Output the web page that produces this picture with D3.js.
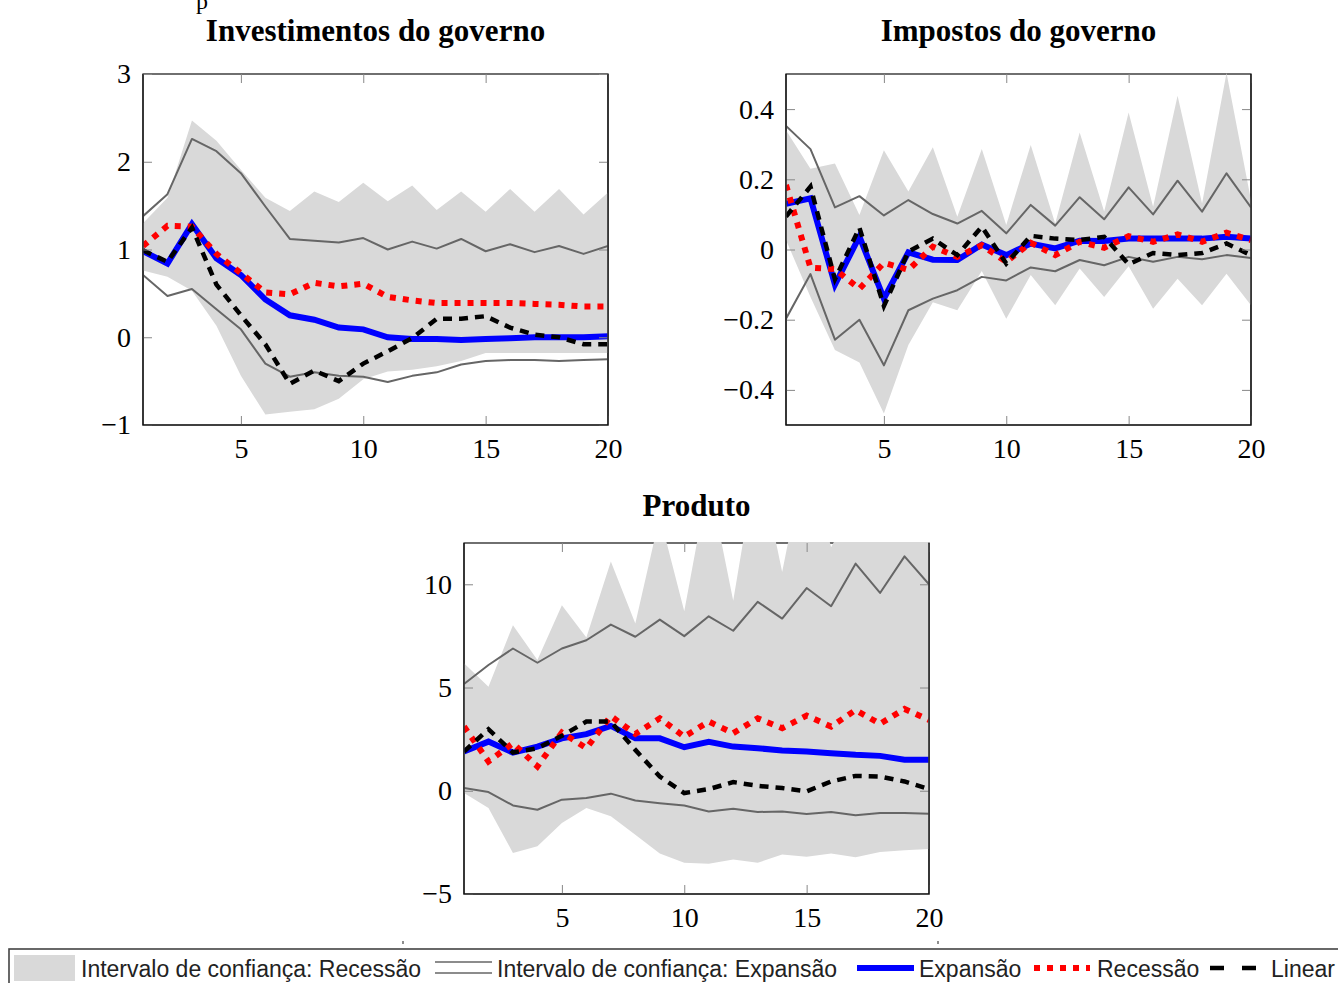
<!DOCTYPE html>
<html>
<head>
<meta charset="utf-8">
<script src="https://cdn.jsdelivr.net/npm/d3@7"></script>
<style>
    body { margin: 0; background: #fff; }
    .axis text { font-family: "Liberation Serif", "Times New Roman", serif; font-size: 28px; fill: #000; }
    .axis line { stroke: #888; stroke-width: 1; }
    .panel-title { font-family: "Liberation Serif", "Times New Roman", serif; font-size: 31px; font-weight: bold; }
    .legend text { font-family: "Liberation Sans", Arial, sans-serif; font-size: 23px; fill: #222; }
</style>
</head>
<body>
<div id="chart"></div>
<script>

// horizons (x axis)
const horizons = [1, 2, 3, 4, 5, 6, 7, 8, 9, 10, 11, 12, 13, 14, 15, 16, 17, 18, 19, 20];
const xTicks = [5, 10, 15, 20];

// Investimentos do governo
const invBandUpper = [1.30, 1.59, 2.47, 2.24, 1.91, 1.59, 1.44, 1.66, 1.54, 1.76, 1.55, 1.73, 1.45, 1.66, 1.43, 1.69, 1.43, 1.69, 1.40, 1.65];
const invBandLower = [0.76, 0.69, 0.53, 0.13, -0.44, -0.88, -0.85, -0.82, -0.70, -0.48, -0.39, -0.37, -0.33, -0.27, -0.18, -0.18, -0.18, -0.18, -0.18, -0.18];
const invExpUpper = [1.38, 1.63, 2.26, 2.12, 1.87, 1.49, 1.12, 1.10, 1.08, 1.13, 1.00, 1.09, 1.01, 1.12, 0.98, 1.06, 0.97, 1.04, 0.95, 1.04];
const invExpLower = [0.71, 0.47, 0.55, 0.32, 0.09, -0.30, -0.45, -0.40, -0.44, -0.45, -0.51, -0.44, -0.40, -0.31, -0.27, -0.26, -0.26, -0.27, -0.26, -0.25];
const invExpansao = [0.98, 0.84, 1.29, 0.90, 0.71, 0.43, 0.25, 0.20, 0.11, 0.09, 0.00, -0.02, -0.02, -0.03, -0.02, -0.01, 0.00, 0.00, 0.00, 0.01];
const invRecessao = [1.04, 1.27, 1.26, 0.95, 0.73, 0.51, 0.49, 0.62, 0.58, 0.61, 0.46, 0.42, 0.39, 0.39, 0.39, 0.39, 0.38, 0.37, 0.35, 0.35];
const invLinear = [0.99, 0.86, 1.25, 0.60, 0.25, -0.08, -0.53, -0.38, -0.50, -0.30, -0.16, -0.01, 0.21, 0.21, 0.24, 0.11, 0.03, 0.00, -0.08, -0.08];
const invYTicks = [-1, 0, 1, 2, 3];

// Impostos do governo
const taxBandUpper = [0.34, 0.23, 0.245, 0.098, 0.283, 0.165, 0.291, 0.093, 0.286, 0.07, 0.298, 0.074, 0.333, 0.108, 0.39, 0.122, 0.438, 0.131, 0.503, 0.14];
const taxBandLower = [0.027, -0.135, -0.286, -0.322, -0.467, -0.272, -0.15, -0.173, -0.061, -0.197, -0.073, -0.159, -0.054, -0.135, -0.048, -0.169, -0.083, -0.159, -0.069, -0.159];
const taxExpUpper = [0.352, 0.286, 0.12, 0.152, 0.097, 0.141, 0.101, 0.074, 0.110, 0.046, 0.127, 0.068, 0.149, 0.086, 0.177, 0.10, 0.196, 0.108, 0.217, 0.12];
const taxExpLower = [-0.197, -0.07, -0.257, -0.20, -0.33, -0.173, -0.14, -0.116, -0.078, -0.088, -0.051, -0.062, -0.030, -0.045, -0.021, -0.035, -0.021, -0.028, -0.016, -0.024];
const taxExpansao = [0.13, 0.146, -0.10, 0.037, -0.14, -0.008, -0.029, -0.03, 0.014, -0.016, 0.017, 0.003, 0.025, 0.024, 0.031, 0.031, 0.031, 0.031, 0.036, 0.031];
const taxRecessao = [0.184, -0.052, -0.056, -0.112, -0.038, -0.058, 0.008, -0.021, 0.012, -0.035, 0.019, -0.016, 0.022, 0.005, 0.038, 0.022, 0.043, 0.022, 0.048, 0.027];
const taxLinear = [0.094, 0.179, -0.085, 0.062, -0.161, -0.006, 0.031, -0.016, 0.065, -0.04, 0.039, 0.031, 0.027, 0.036, -0.042, -0.01, -0.016, -0.01, 0.017, -0.016];
const taxYTicks = [-0.4, -0.2, 0, 0.2, 0.4];

// Produto
const prodBandUpper = [6.17, 5.04, 8.02, 6.33, 8.99, 7.42, 11.1, 8.1, 13.3, 8.7, 15.1, 9.2, 16.3, 10.6, 16.5, 11.8, 14.0, 13.5, 16.0, 14.0];
const prodBandLower = [-0.11, -0.84, -3.01, -2.69, -1.56, -0.84, -1.24, -2.13, -3.04, -3.49, -3.54, -3.33, -3.49, -3.09, -3.2, -3.04, -3.22, -2.96, -2.88, -2.82];
const prodExpUpper = [5.17, 6.09, 6.89, 6.2, 6.89, 7.29, 8.05, 7.46, 8.29, 7.49, 8.45, 7.75, 9.15, 8.34, 9.82, 8.94, 11.0, 9.58, 11.35, 10.0];
const prodExpLower = [0.13, -0.06, -0.71, -0.92, -0.43, -0.35, -0.14, -0.47, -0.6, -0.71, -1.0, -0.87, -1.03, -1.0, -1.13, -1.03, -1.19, -1.08, -1.08, -1.11];
const prodExpansao = [1.9, 2.38, 1.85, 2.14, 2.54, 2.74, 3.14, 2.54, 2.54, 2.11, 2.37, 2.14, 2.06, 1.95, 1.9, 1.82, 1.74, 1.69, 1.5, 1.5];
const prodRecessao = [3.11, 1.42, 2.3, 1.18, 2.82, 2.06, 3.62, 2.75, 3.51, 2.62, 3.35, 2.79, 3.51, 3.03, 3.64, 3.11, 3.91, 3.24, 3.96, 3.43];
const prodLinear = [1.9, 2.98, 1.85, 2.06, 2.66, 3.35, 3.35, 1.98, 0.69, -0.11, 0.08, 0.42, 0.24, 0.13, -0.03, 0.45, 0.72, 0.69, 0.45, 0.08];
const prodYTicks = [-5, 0, 5, 10];

// legend labels
const legendLabels = ["Intervalo de confiança: Recessão", "Intervalo de confiança: Expansão", "Expansão", "Recessão", "Linear"];

const W = 1338, H = 983;

const svg = d3.select("#chart").append("svg")
    .attr("width", W)
    .attr("height", H)
    .style("display", "block");

svg.append("rect").attr("width", W).attr("height", H).attr("fill", "#fff");

// caption letter peeking in at the very top
svg.append("text")
    .attr("x", 196).attr("y", 9)
    .style("font-family", "Liberation Serif, serif")
    .style("font-size", "24px")
    .text("p");

const fmtPlain = d => d3.format("")(d);
const fmtOne = d => d === 0 ? "0" : d3.format(".1f")(d);

/* * * * * * * * * * * * * *
*      class irfPanel      *
* * * * * * * * * * * * * */

class irfPanel {
    constructor(id, box, title, titleY, series, yDomain, yTicks, yFormat) {
        this.id = id;
        this.box = box;
        this.title = title;
        this.titleY = titleY;
        this.series = series;
        this.yDomain = yDomain;
        this.yTicks = yTicks;
        this.yFormat = yFormat;
        this.initVis();
    }

    initVis() {
        let vis = this;
        let b = vis.box;

        vis.g = svg.append("g").attr("class", "panel-" + vis.id);

        vis.x = d3.scaleLinear().domain([1, 20]).range([b.x0, b.x1]);
        vis.y = d3.scaleLinear().domain(vis.yDomain).range([b.y1, b.y0]);

        // title
        vis.g.append("text")
            .attr("class", "panel-title")
            .attr("x", (b.x0 + b.x1) / 2)
            .attr("y", vis.titleY)
            .attr("text-anchor", "middle")
            .text(vis.title);

        // clip
        vis.g.append("clipPath")
            .attr("id", "clip-" + vis.id)
            .append("rect")
            .attr("x", b.x0 + 0.5)
            .attr("y", b.y0 - 1)
            .attr("width", b.x1 - b.x0 - 1)
            .attr("height", b.y1 - b.y0 + 1);

        // frame under the band (top edge gets covered in Produto)
        vis.g.append("rect")
            .attr("x", b.x0).attr("y", b.y0)
            .attr("width", b.x1 - b.x0).attr("height", b.y1 - b.y0)
            .attr("fill", "none")
            .attr("stroke", "#111")
            .attr("stroke-width", 1.2);

        vis.plot = vis.g.append("g").attr("clip-path", `url(#clip-${vis.id})`);

        vis.wrangleData();
    }

    wrangleData() {
        let vis = this;
        let s = vis.series;
        vis.bandData = horizons.map((h, i) => ({h: h, lo: s.bandLower[i], hi: s.bandUpper[i]}));
        vis.lineData = {
            expUpper: horizons.map((h, i) => ({h: h, v: s.expUpper[i]})),
            expLower: horizons.map((h, i) => ({h: h, v: s.expLower[i]})),
            expansao: horizons.map((h, i) => ({h: h, v: s.expansao[i]})),
            recessao: horizons.map((h, i) => ({h: h, v: s.recessao[i]})),
            linear: horizons.map((h, i) => ({h: h, v: s.linear[i]}))
        };
        vis.updateVis();
    }

    updateVis() {
        let vis = this;
        let b = vis.box;

        let area = d3.area()
            .x(d => vis.x(d.h))
            .y0(d => vis.y(d.lo))
            .y1(d => vis.y(d.hi));

        let line = d3.line()
            .x(d => vis.x(d.h))
            .y(d => vis.y(d.v));

        vis.plot.append("path")
            .datum(vis.bandData)
            .attr("d", area)
            .attr("fill", "#d9d9d9");

        // expansion confidence interval
        ["expUpper", "expLower"].forEach(k => {
            vis.plot.append("path")
                .datum(vis.lineData[k])
                .attr("d", line)
                .attr("fill", "none")
                .attr("stroke", "#666")
                .attr("stroke-width", 2)
                .attr("stroke-linejoin", "round");
        });

        vis.plot.append("path")
            .datum(vis.lineData.expansao)
            .attr("d", line)
            .attr("fill", "none")
            .attr("stroke", "#0000ff")
            .attr("stroke-width", 6);

        vis.plot.append("path")
            .datum(vis.lineData.recessao)
            .attr("d", line)
            .attr("fill", "none")
            .attr("stroke", "#ff0000")
            .attr("stroke-width", 6)
            .attr("stroke-dasharray", "6,7");

        vis.plot.append("path")
            .datum(vis.lineData.linear)
            .attr("d", line)
            .attr("fill", "none")
            .attr("stroke", "#000")
            .attr("stroke-width", 4.5)
            .attr("stroke-dasharray", "9,7");

        // axes with inward ticks on all four sides
        let left = vis.g.append("g").attr("class", "axis")
            .attr("transform", `translate(${b.x0},0)`)
            .call(d3.axisLeft(vis.y).tickValues(vis.yTicks).tickSize(-9).tickPadding(12).tickFormat(vis.yFormat));
        let right = vis.g.append("g").attr("class", "axis")
            .attr("transform", `translate(${b.x1},0)`)
            .call(d3.axisRight(vis.y).tickValues(vis.yTicks).tickSize(-9).tickFormat(""));
        let bottom = vis.g.append("g").attr("class", "axis")
            .attr("transform", `translate(0,${b.y1})`)
            .call(d3.axisBottom(vis.x).tickValues(xTicks).tickSize(-9).tickPadding(13).tickFormat(fmtPlain));
        let top = vis.g.append("g").attr("class", "axis")
            .attr("transform", `translate(0,${b.y0})`)
            .call(d3.axisTop(vis.x).tickValues(xTicks).tickSize(-9).tickFormat(""));

        [left, right, bottom, top].forEach(a => a.select(".domain").remove());
        vis.g.selectAll(".axis text").attr("font-family", null).attr("font-size", null);

        // left, right, bottom edges on top
        vis.g.append("path")
            .attr("d", `M${b.x0},${b.y0}V${b.y1}H${b.x1}V${b.y0}`)
            .attr("fill", "none")
            .attr("stroke", "#111")
            .attr("stroke-width", 1.2);
    }
}

let invPanel = new irfPanel("inv", {x0: 143, x1: 608, y0: 74, y1: 425}, "Investimentos do governo", 41,
    {bandUpper: invBandUpper, bandLower: invBandLower, expUpper: invExpUpper, expLower: invExpLower,
     expansao: invExpansao, recessao: invRecessao, linear: invLinear},
    [-1, 3], invYTicks, fmtPlain);

let taxPanel = new irfPanel("tax", {x0: 786, x1: 1251, y0: 74, y1: 425}, "Impostos do governo", 41,
    {bandUpper: taxBandUpper, bandLower: taxBandLower, expUpper: taxExpUpper, expLower: taxExpLower,
     expansao: taxExpansao, recessao: taxRecessao, linear: taxLinear},
    [-0.5, 0.5], taxYTicks, fmtOne);

let prodPanel = new irfPanel("prod", {x0: 464, x1: 929, y0: 543, y1: 894}, "Produto", 516,
    {bandUpper: prodBandUpper, bandLower: prodBandLower, expUpper: prodExpUpper, expLower: prodExpLower,
     expansao: prodExpansao, recessao: prodRecessao, linear: prodLinear},
    [-5, 12], prodYTicks, fmtPlain);

// legend
let legend = svg.append("g").attr("class", "legend");

legend.append("rect")
    .attr("x", 9).attr("y", 949)
    .attr("width", W + 20).attr("height", 60)
    .attr("fill", "#fff")
    .attr("stroke", "#444")
    .attr("stroke-width", 1.6);

// tiny marks above the legend box
[403, 938].forEach(px => {
    legend.append("line")
        .attr("x1", px).attr("x2", px)
        .attr("y1", 941).attr("y2", 944)
        .attr("stroke", "#444").attr("stroke-width", 1.2);
});

let ly = 968;
let lb = 977;

legend.append("rect")
    .attr("x", 14).attr("y", 955).attr("width", 61).attr("height", 26)
    .attr("fill", "#d9d9d9");
legend.append("text").attr("x", 81).attr("y", lb).text(legendLabels[0]);

[962, 973].forEach(yy => {
    legend.append("line")
        .attr("x1", 435).attr("x2", 492).attr("y1", yy).attr("y2", yy)
        .attr("stroke", "#666").attr("stroke-width", 1.6);
});
legend.append("text").attr("x", 497).attr("y", lb).text(legendLabels[1]);

legend.append("line")
    .attr("x1", 857).attr("x2", 914).attr("y1", ly).attr("y2", ly)
    .attr("stroke", "#0000ff").attr("stroke-width", 6);
legend.append("text").attr("x", 919).attr("y", lb).text(legendLabels[2]);

legend.append("line")
    .attr("x1", 1034).attr("x2", 1090).attr("y1", ly).attr("y2", ly)
    .attr("stroke", "#ff0000").attr("stroke-width", 6).attr("stroke-dasharray", "6,7");
legend.append("text").attr("x", 1097).attr("y", lb).text(legendLabels[3]);

legend.append("line")
    .attr("x1", 1210).attr("x2", 1256).attr("y1", ly).attr("y2", ly)
    .attr("stroke", "#000").attr("stroke-width", 4.5).attr("stroke-dasharray", "14,18");
legend.append("text").attr("x", 1271).attr("y", lb).text(legendLabels[4]);

</script>
</body>
</html>
